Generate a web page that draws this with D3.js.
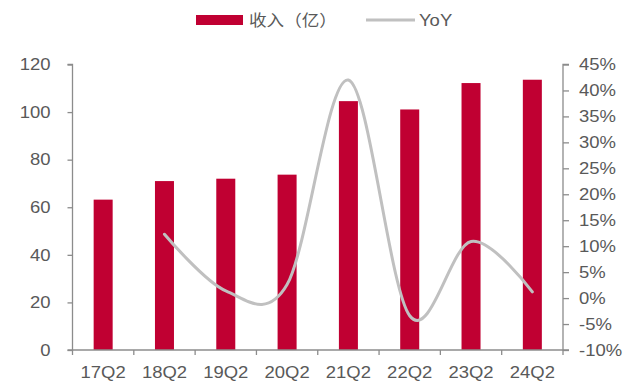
<!DOCTYPE html>
<html>
<head>
<meta charset="utf-8">
<script src="https://cdn.jsdelivr.net/npm/d3@7"></script>
<style>
  html, body { margin: 0; padding: 0; background: #fff; }
  svg { display: block; }
  text { font-family: "Liberation Sans", Arial, sans-serif; fill: #595959; }
</style>
</head>
<body>
<svg id="chart" width="626" height="382"></svg>
<script>
// Quarterly revenue (亿) and year-over-year growth (%)
const categories = ["17Q2", "18Q2", "19Q2", "20Q2", "21Q2", "22Q2", "23Q2", "24Q2"];
const revenue = [63.2, 71.0, 72.0, 73.7, 104.6, 101.1, 112.2, 113.6];
const yoy = [null, 12.3, 1.4, 2.6, 42.0, -3.4, 10.9, 1.2];
const leftTicks = [0, 20, 40, 60, 80, 100, 120];
const rightTicks = [-10, -5, 0, 5, 10, 15, 20, 25, 30, 35, 40, 45];
const seriesNames = ["收入（亿）", "YoY"];

(function () {
  const barColor = "#c00032";
  const lineColor = "#c0c0c0";
  const axisColor = "#8c8c8c";
  const fontSize = "16.5px";
  const wide = 1.12; // slightly widened lettering

  // widen text horizontally while keeping its anchor point in place
  function widen(sel, k) {
    sel.each(function () {
      const t = d3.select(this);
      const x0 = +t.attr("x") || 0;
      t.attr("x", x0 / k).attr("transform", `scale(${k},1)`);
    });
  }

  const svg = d3.select("#chart");
  const plotL = 72.5, plotR = 563, plotT = 64.5, plotB = 350;

  const x = d3.scaleBand().domain(categories).range([plotL, plotR]).padding(0);
  const yL = d3.scaleLinear().domain([0, 120]).range([plotB, plotT]);
  const yR = d3.scaleLinear().domain([-10, 45]).range([plotB, plotT]);
  const barW = x.bandwidth() * 0.31;

  // bars
  svg.append("g").selectAll("rect")
    .data(categories)
    .join("rect")
    .attr("x", (d) => x(d) + x.bandwidth() / 2 - barW / 2)
    .attr("y", (d, i) => yL(revenue[i]))
    .attr("width", barW)
    .attr("height", (d, i) => yL(0) - yL(revenue[i]))
    .attr("fill", barColor);

  // smoothed growth line
  const pts = categories.map((c, i) => ({ c, v: yoy[i] })).filter((p) => p.v !== null);
  const line = d3.line()
    .x((p) => x(p.c) + x.bandwidth() / 2)
    .y((p) => yR(p.v))
    .curve(d3.curveCardinal.tension(0));
  svg.append("path")
    .datum(pts)
    .attr("d", line)
    .attr("fill", "none")
    .attr("stroke", lineColor)
    .attr("stroke-width", 3)
    .attr("stroke-linecap", "round");

  // left axis
  const gL = svg.append("g").attr("transform", `translate(${plotL},0)`)
    .call(d3.axisLeft(yL).tickValues(leftTicks).tickSize(5).tickPadding(17));
  // right axis
  const gR = svg.append("g").attr("transform", `translate(${plotR},0)`)
    .call(d3.axisRight(yR).tickValues(rightTicks).tickSize(6).tickPadding(10)
      .tickFormat((d) => d + "%"));
  [gL, gR].forEach((g) => {
    g.select(".domain").attr("stroke", axisColor).attr("stroke-width", 1.3);
    g.selectAll(".tick line").attr("stroke", axisColor).attr("stroke-width", 1.3);
    g.selectAll(".tick text").attr("fill", "#595959")
      .style("font-size", fontSize).style("font-family", "'Liberation Sans', Arial, sans-serif")
      .call(widen, wide);
  });
  gL.select(".domain").attr("d", `M-5,${plotT}H0V${plotB}H-5`);
  gR.select(".domain").attr("d", `M6,${plotT}H0V${plotB}H6`);

  // bottom axis: boundary ticks and centred labels
  const gB = svg.append("g");
  gB.append("line").attr("x1", plotL).attr("x2", plotR).attr("y1", plotB).attr("y2", plotB)
    .attr("stroke", axisColor).attr("stroke-width", 1.3);
  const bounds = categories.map((c) => x(c)).concat([plotR]);
  gB.selectAll("line.tk").data(bounds).join("line").attr("class", "tk")
    .attr("x1", (d) => d).attr("x2", (d) => d)
    .attr("y1", plotB).attr("y2", plotB + 5)
    .attr("stroke", axisColor).attr("stroke-width", 1.3);
  gB.selectAll("text").data(categories).join("text")
    .attr("x", (d) => x(d) + x.bandwidth() / 2)
    .attr("y", 378.5)
    .attr("text-anchor", "middle")
    .style("font-size", fontSize)
    .text((d) => d)
    .call(widen, wide);

  // legend
  const lg = svg.append("g");
  lg.append("rect").attr("x", 196).attr("y", 15).attr("width", 47).attr("height", 10).attr("fill", barColor);
  lg.append("text").attr("x", 249).attr("y", 26)
    .style("font-family", "'Noto Sans CJK SC', sans-serif").style("font-size", "16px")
    .text(seriesNames[0])
    .call(widen, 1.1);
  lg.append("line").attr("x1", 366).attr("x2", 415).attr("y1", 20).attr("y2", 20)
    .attr("stroke", lineColor).attr("stroke-width", 3);
  lg.append("text").attr("x", 419).attr("y", 26).style("font-size", fontSize).text(seriesNames[1])
    .call(widen, wide);
})();
</script>
</body>
</html>
